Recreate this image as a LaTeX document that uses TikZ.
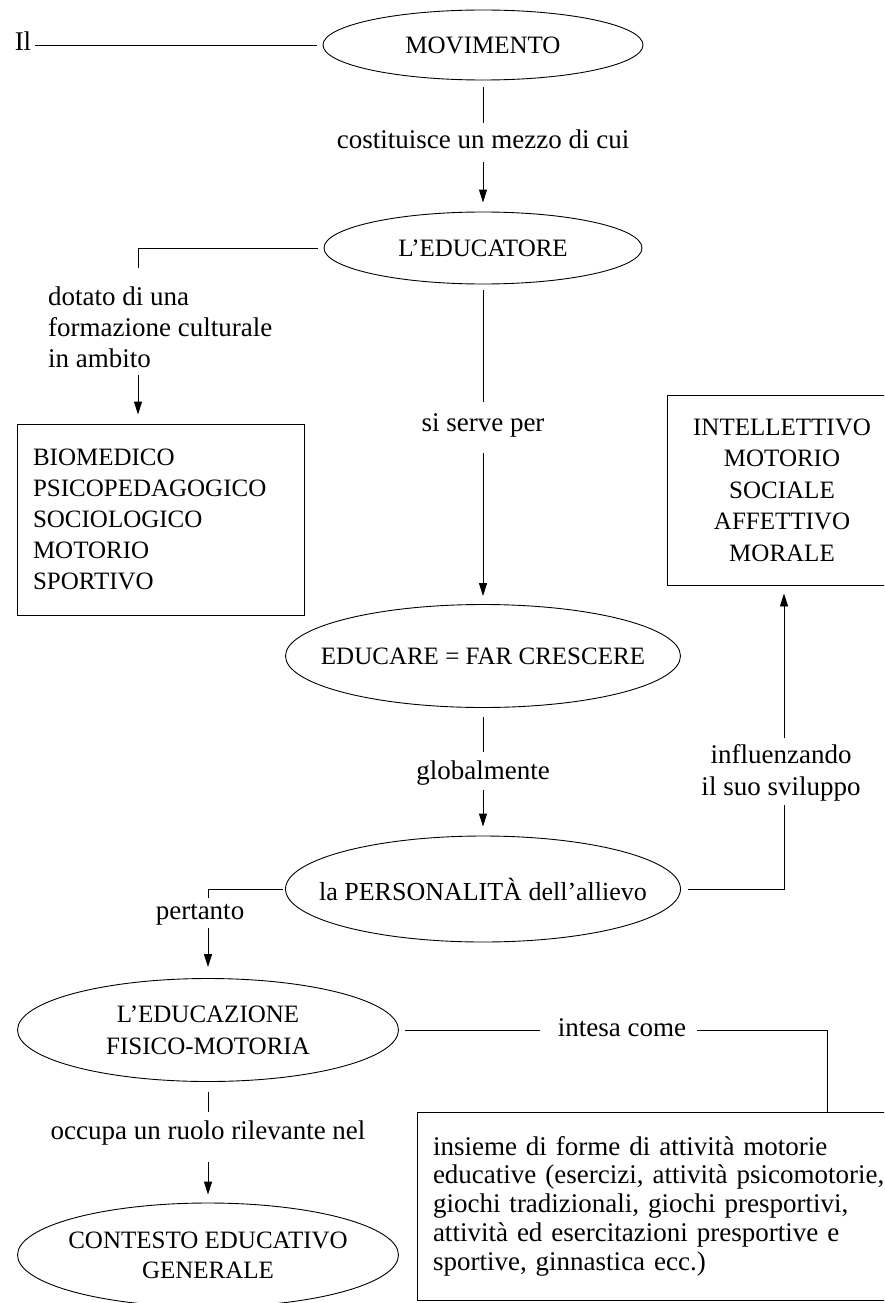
\documentclass[tikz,border=0pt]{standalone}
\usepackage{fontspec}
\setmainfont{Liberation Serif}
\usetikzlibrary{shapes.geometric,arrows.meta}
\begin{document}
\begin{tikzpicture}[x=1pt,y=-1pt,
  ell/.style={ellipse,draw,line width=0.9pt,inner xsep=-40pt,inner ysep=-10pt,align=center,font=\fontsize{25}{32}\selectfont},
  lab/.style={inner sep=0pt,text height=19pt,text depth=7pt,font=\fontsize{27}{31}\selectfont},
  mlab/.style={inner sep=0pt,font=\fontsize{27}{31}\selectfont},
  boxn/.style={draw,line width=0.9pt,inner xsep=16pt,inner ysep=0pt},
  conn/.style={line width=0.9pt},
  arr/.style={conn,-{Triangle[length=13pt,width=8pt]}}]
\useasboundingbox (0,0) rectangle (884,1303);
\clip (0,0) rectangle (884,1303);

% nodes
\node[lab] (il) at (23,45) {Il};
\node[ell,minimum width=320pt,minimum height=70pt] (mov) at (483,45) {MOVIMENTO};
\node[lab] (l1) at (483,143) {costituisce un mezzo di cui};
\node[ell,minimum width=318pt,minimum height=72pt] (edu) at (483,248) {L’EDUCATORE};
\node[mlab,align=left,anchor=north west] (l2) at (48,287) {dotato di una\\formazione culturale\\in ambito};
\coordinate (k1) at (138,268);
\coordinate (k2) at (138,375);
\node[boxn,text width=255pt,minimum height=191pt,align=left,font=\fontsize{25}{31}\selectfont] (bio) at (160.5,519.5) {BIOMEDICO\\PSICOPEDAGOGICO\\SOCIOLOGICO\\MOTORIO\\SPORTIVO};
\node[lab] (l3) at (483,425) {si serve per};
\node[boxn,text width=198pt,minimum height=190pt,align=center,font=\fontsize{25}{31.5}\selectfont] (int) at (782,490) {INTELLETTIVO\\MOTORIO\\SOCIALE\\AFFETTIVO\\MORALE};
\node[ell,minimum width=395pt,minimum height=103pt] (educ) at (483,656) {EDUCARE = FAR CRESCERE};
\node[lab] (l4) at (483,773) {globalmente};
\node[ell,minimum width=395pt,minimum height=106pt,font=\fontsize{26}{32}\selectfont] (pers) at (483,889) {la PERSONALITÀ dell’allievo};
\node[mlab,align=center,font=\fontsize{27}{32}\selectfont] (l5) at (781,773) {influenzando\\il suo sviluppo};
\coordinate (r1) at (784,805);
\coordinate (r2) at (784,738);
\node[lab] (l7) at (200,913) {pertanto};
\coordinate (p1) at (208,898);
\coordinate (p2) at (208,928);
\node[ell,minimum width=381pt,minimum height=103pt] (educaz) at (208,1030) {L’EDUCAZIONE\\FISICO-MOTORIA};
\node[lab] (l8) at (622,1030) {intesa come};
\coordinate (r3) at (827,1112);
\node[boxn,text width=447pt,minimum height=188pt,align=left,font=\fontsize{27}{28.75}\selectfont] (ins) at (656.5,1206) {%
\makebox[447pt][s]{insieme di forme di attività motorie}\\
\makebox[447pt][s]{educative (esercizi, attività psicomotorie,}\\
\makebox[447pt][s]{giochi tradizionali, giochi presportivi,}\\
\makebox[447pt][s]{attività ed esercitazioni presportive e}\\
sportive, ginnastica ecc.)};
\node[lab] (l6) at (208,1133) {occupa un ruolo rilevante nel};
\node[ell,minimum width=381pt,minimum height=104pt,font=\fontsize{25}{30}\selectfont] (cont) at (208,1255) {CONTESTO EDUCATIVO\\GENERALE};

% connectors
\draw[conn,shorten <=4pt,shorten >=6pt] (il.east) -- (mov.west);
\draw[conn,shorten <=7pt,shorten >=7pt] (mov.south) -- (l1.north);
\draw[arr,shorten <=6pt,shorten >=9pt] (l1.south) -- (edu.north);
\draw[conn,shorten <=6pt] (edu.west) -| (k1);
\draw[arr,shorten >=9pt] (k2) -- (bio.north -| k2);
\draw[conn,shorten <=6pt,shorten >=10pt] (edu.south) -- (l3.north);
\draw[arr,shorten <=15pt,shorten >=8pt] (l3.south) -- (educ.north);
\draw[conn,shorten <=9pt,shorten >=8pt] (educ.south) -- (l4.north);
\draw[arr,shorten <=4pt,shorten >=9pt] (l4.south) -- (pers.north);
\draw[conn,shorten <=7pt] (pers.east) -| (r1);
\draw[arr,shorten >=8pt] (r2) -- (int.south -| r2);
\draw[conn,shorten <=2pt] (pers.west) -| (p1);
\draw[arr,shorten >=11pt] (p2) -- (educaz.north);
\draw[conn,shorten <=6pt,shorten >=18pt] (educaz.east) -- (l8.west);
\draw[conn,shorten <=11pt] (l8.east) -| (r3);
\draw[conn,shorten <=10pt,shorten >=8pt] (educaz.south) -- (l6.north);
\draw[arr,shorten <=16pt,shorten >=8pt] (l6.south) -- (cont.north);
\end{tikzpicture}
\end{document}
